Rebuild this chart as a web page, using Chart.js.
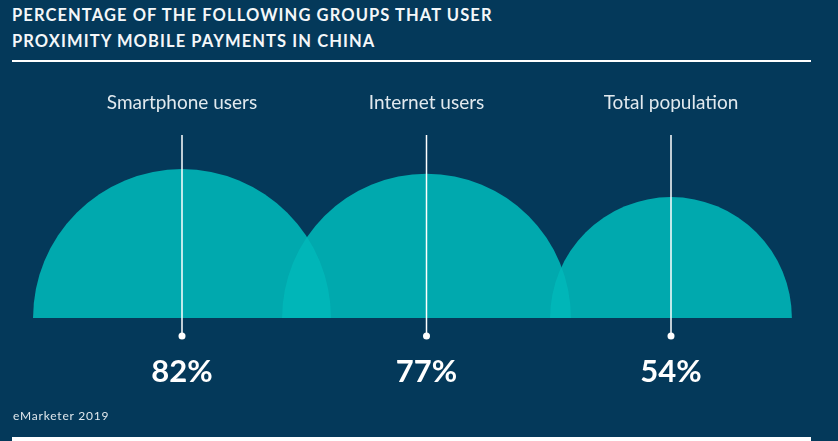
<!DOCTYPE html>
<html>
<head>
<meta charset="utf-8">
<script src="https://cdn.jsdelivr.net/npm/chart.js@4"></script>
<style>
  html, body { margin: 0; padding: 0; }
  body { width: 838px; height: 441px; background: #04395a; position: relative; overflow: hidden; font-family: Lato, "Open Sans", sans-serif; }
  #title { position: absolute; left: 12px; top: 2px; color: #f4f7f9; font-weight: 700; font-size: 16.5px; line-height: 26px; letter-spacing: 1.1px; white-space: nowrap; }
  #ruleTop { position: absolute; left: 12px; top: 60px; width: 799px; height: 2px; background: #ffffff; }
  #source { position: absolute; left: 13px; top: 409px; color: #dfe7ec; font-size: 12px; line-height: 14px; letter-spacing: 0.8px; }
  #ruleBottom { position: absolute; left: 12px; top: 437px; width: 799px; height: 4px; background: #ffffff; }
  canvas { position: absolute; left: 0; top: 0; }
</style>
</head>
<body>
<div id="title">PERCENTAGE OF THE FOLLOWING GROUPS THAT USER<br>PROXIMITY MOBILE PAYMENTS IN CHINA</div>
<div id="ruleTop"></div>
<canvas id="c" width="838" height="441"></canvas>
<div id="source">eMarketer 2019</div>
<div id="ruleBottom"></div>
<script>
const categories = ['Smartphone users', 'Internet users', 'Total population'];
const shares = [82, 77, 54];
const shareLabels = shares.map(v => v + '%');

const guides = {
  id: 'guides',
  afterDatasetsDraw(chart) {
    const { ctx, chartArea, scales } = chart;
    ctx.save();
    ctx.strokeStyle = '#ffffff';
    ctx.fillStyle = '#ffffff';
    ctx.lineWidth = 1.5;
    categories.forEach((c, i) => {
      const px = scales.x.getPixelForValue(i);
      const top = chartArea.top - 18.5;
      const bot = chartArea.bottom + 18;
      ctx.beginPath();
      ctx.moveTo(px, top);
      ctx.lineTo(px, bot);
      ctx.stroke();
      ctx.beginPath();
      ctx.arc(px, bot, 3.5, 0, Math.PI * 2);
      ctx.fill();
    });
    ctx.restore();
  }
};

const chart = new Chart(document.getElementById('c'), {
  type: 'bubble',
  data: {
    datasets: [{
      data: shares.map((v, i) => ({ x: i, y: 0, r: 0 })),
      backgroundColor: 'rgba(0,184,185,0.88)',
      borderWidth: 0,
      clip: { left: false, top: false, right: false, bottom: 0 }
    }]
  },
  options: {
    responsive: false,
    devicePixelRatio: 1,
    animation: false,
    events: [],
    layout: { autoPadding: false, padding: { left: 182, right: 167, top: 83.5, bottom: 43 } },
    plugins: { legend: { display: false }, tooltip: { enabled: false } },
    scales: {
      x: {
        type: 'category',
        labels: categories,
        position: 'top',
        offset: false,
        grid: { display: false, drawTicks: false },
        border: { display: false },
        ticks: { color: '#e1e9ee', padding: 39, maxRotation: 0, autoSkip: false, font: { family: 'Lato', size: 19, weight: '400' } },
        afterFit: s => { s.height = 70; }
      },
      x2: {
        type: 'category',
        labels: shareLabels,
        position: 'bottom',
        offset: false,
        grid: { display: false, drawTicks: false },
        border: { display: false },
        ticks: { color: '#ffffff', padding: 35, maxRotation: 0, autoSkip: false, font: { family: 'Lato', size: 31, weight: '700' } },
        afterFit: s => { s.height = 80; }
      },
      y: { type: 'linear', min: 0, max: 10, display: false }
    }
  },
  plugins: [guides]
});

// bubble area proportional to the share: radius measured on the y scale (sqrt units)
const yScale = chart.scales.y;
chart.data.datasets[0].data = shares.map((v, i) => ({
  x: i,
  y: 0,
  r: yScale.getPixelForValue(0) - yScale.getPixelForValue(Math.sqrt(v))
}));
chart.update();
</script>
</body>
</html>
